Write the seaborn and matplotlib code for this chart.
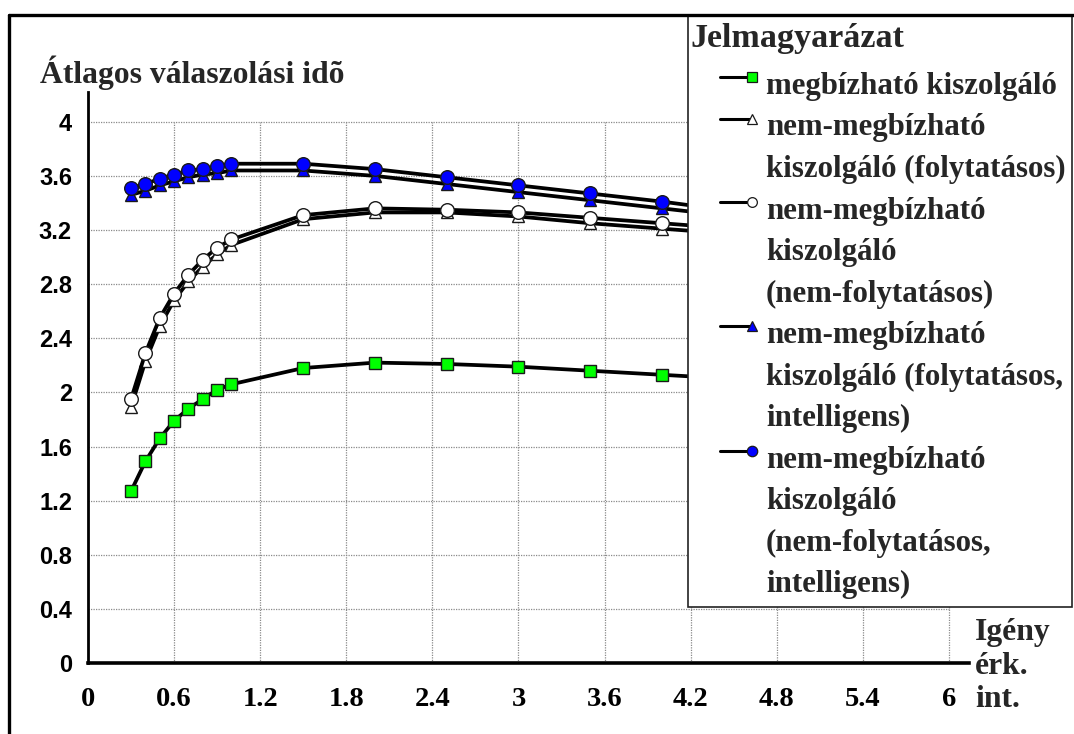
import matplotlib
matplotlib.use("Agg")
import matplotlib.pyplot as plt
import seaborn as sns
from matplotlib.lines import Line2D
from matplotlib.patches import Rectangle

# ---- data -------------------------------------------------------------
x_vals = [0.3, 0.4, 0.5, 0.6, 0.7, 0.8, 0.9, 1.0, 1.5, 2.0, 2.5, 3.0, 3.5, 4.0, 4.5]

megbizhato = [1.27, 1.49, 1.66, 1.79, 1.88, 1.95, 2.02, 2.06, 2.18, 2.22, 2.21, 2.19, 2.16, 2.13, 2.10]
nm_folyt = [1.89, 2.23, 2.49, 2.68, 2.82, 2.93, 3.02, 3.09, 3.28, 3.33, 3.33, 3.30, 3.25, 3.21, 3.17]
nm_nemfolyt = [1.95, 2.29, 2.55, 2.73, 2.87, 2.98, 3.07, 3.13, 3.31, 3.36, 3.35, 3.33, 3.29, 3.25, 3.21]
nm_folyt_int = [3.46, 3.49, 3.53, 3.56, 3.59, 3.61, 3.62, 3.64, 3.64, 3.60, 3.54, 3.48, 3.42, 3.36, 3.30]
nm_nemfolyt_int = [3.51, 3.54, 3.58, 3.61, 3.64, 3.65, 3.67, 3.69, 3.69, 3.65, 3.59, 3.53, 3.47, 3.41, 3.34]

series = [megbizhato, nm_folyt, nm_nemfolyt, nm_folyt_int, nm_nemfolyt_int]

legend_labels = [
    ["megbízható kiszolgáló"],
    ["nem-megbízható", "kiszolgáló (folytatásos)"],
    ["nem-megbízható", "kiszolgáló", "(nem-folytatásos)"],
    ["nem-megbízható", "kiszolgáló (folytatásos,", "intelligens)"],
    ["nem-megbízható", "kiszolgáló", "(nem-folytatásos,", "intelligens)"],
]

x_ticks = [0, 0.6, 1.2, 1.8, 2.4, 3, 3.6, 4.2, 4.8, 5.4, 6]
x_tick_labels = ["0", "0.6", "1.2", "1.8", "2.4", "3", "3.6", "4.2", "4.8", "5.4", "6"]
y_ticks = [0, 0.4, 0.8, 1.2, 1.6, 2, 2.4, 2.8, 3.2, 3.6, 4]
y_tick_labels = ["0", "0.4", "0.8", "1.2", "1.6", "2", "2.4", "2.8", "3.2", "3.6", "4"]

y_title = "Átlagos válaszolási idõ"
x_title = "Igény\nérk.\nint."
legend_title = "Jelmagyarázat"

# ---- styles -----------------------------------------------------------
marker_styles = [
    dict(marker="s", mfc="#00ff00", ms=9.3, lms=7.0),
    dict(marker="^", mfc="white", ms=9.3, lms=7.0),
    dict(marker="o", mfc="white", ms=9.8, lms=7.0),
    dict(marker="^", mfc="#0000ff", ms=9.3, lms=7.0),
    dict(marker="o", mfc="#0000ff", ms=9.8, lms=7.5),
]

SERIF = "Liberation Serif"
SANS = "Liberation Sans"

sns.set_style("white")
plt.rcParams["font.family"] = [SERIF, "DejaVu Sans"]

W, H = 1074, 734
fig = plt.figure(figsize=(W / 100, H / 100), dpi=100)
fig.patch.set_facecolor("white")


def fx(px):
    return px / W


def fy(py):
    return 1 - py / H


ax = fig.add_axes([fx(88), fy(663), fx(881), 571 / H])
ax.set_facecolor("white")
ax.set_xlim(0, 6.14)
ax.set_ylim(0, 4.22)

# dotted grid limited to the tick range
ax.hlines(y_ticks[1:], 0, 6, colors="#8a8a8a", linestyles=(0, (1, 1)), linewidth=0.9, zorder=0.5)
ax.vlines(x_ticks[1:], 0, 4, colors="#8a8a8a", linestyles=(0, (1, 1)), linewidth=0.9, zorder=0.5)

for ys, st in zip(series, marker_styles):
    sns.lineplot(
        x=x_vals, y=ys, ax=ax, color="black", linewidth=2.7,
        marker=st["marker"], markersize=st["ms"],
        markerfacecolor=st["mfc"], markeredgecolor="#1a1a1a",
        markeredgewidth=1.0, legend=False, zorder=3,
    )

for side in ("top", "right"):
    ax.spines[side].set_visible(False)
ax.spines["left"].set_color("black")
ax.spines["left"].set_linewidth(2.0)
ax.spines["bottom"].set_color("black")
ax.spines["bottom"].set_linewidth(2.6)

ax.set_xticks(x_ticks)
ax.set_xticklabels(x_tick_labels)
ax.set_yticks(y_ticks)
ax.set_yticklabels(y_tick_labels)
ax.tick_params(axis="x", direction="out", length=10, width=1.3, pad=7, colors="black")
ax.tick_params(axis="y", direction="out", length=8.5, width=1.3, pad=3, colors="black")
for lab in ax.get_xticklabels():
    lab.set_fontfamily(SERIF)
    lab.set_fontweight("bold")
    lab.set_fontsize(20.5)
for lab in ax.get_yticklabels():
    lab.set_fontfamily(SANS)
    lab.set_fontweight("bold")
    lab.set_fontsize(17)
ax.set_xlabel("")
ax.set_ylabel("")

# axis titles
fig.text(fx(40), fy(73), y_title, ha="left", va="center",
         fontsize=22.8, fontweight="bold", family=SERIF)
fig.text(fx(975), fy(666), x_title, ha="left", va="center",
         fontsize=22.8, fontweight="bold", family=SERIF, linespacing=1.22)

# outer frame
fig.add_artist(Line2D([fx(9), fx(9)], [0, fy(15)], transform=fig.transFigure,
                      color="black", lw=2.4, zorder=20))
fig.add_artist(Line2D([fx(9), 1], [fy(15), fy(15)], transform=fig.transFigure,
                      color="black", lw=2.4, zorder=20))

# legend box
fig.add_artist(Rectangle((fx(688), fy(607)), fx(1072 - 688), (607 - 15) / H,
                         transform=fig.transFigure, facecolor="white",
                         edgecolor="#222222", lw=1.2, zorder=10))
fig.text(fx(690), fy(47), legend_title, ha="left", va="baseline",
         fontsize=24.5, fontweight="bold", family=SERIF, zorder=11)

line_step = 41.5
base0 = 94
row = 0
for lines, st in zip(legend_labels, marker_styles):
    hy = base0 + row * line_step - 17
    fig.add_artist(Line2D([fx(720), fx(752)], [fy(hy), fy(hy)], transform=fig.transFigure,
                          color="black", lw=2.2, zorder=11))
    fig.add_artist(Line2D([fx(752)], [fy(hy)], transform=fig.transFigure,
                          linestyle="none", marker=st["marker"], markersize=st["lms"],
                          markerfacecolor=st["mfc"], markeredgecolor="#1a1a1a",
                          markeredgewidth=0.9, zorder=12))
    for ln in lines:
        fig.text(fx(766), fy(base0 + row * line_step), ln, ha="left", va="baseline",
                 fontsize=22.2, fontweight="bold", family=SERIF, zorder=11)
        row += 1

fig.savefig("out.png", dpi=100, facecolor="white")
